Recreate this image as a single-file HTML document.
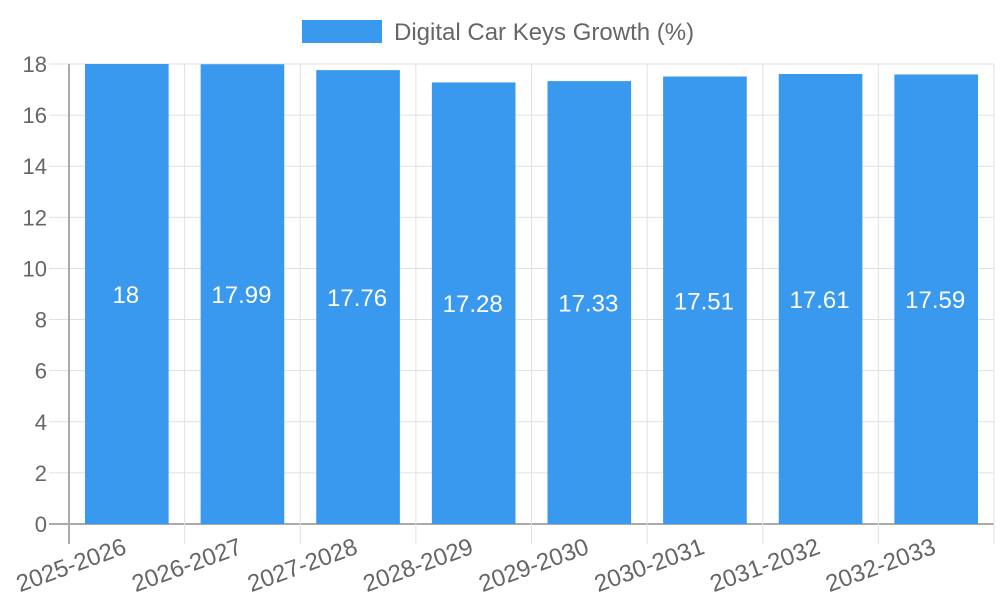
<!DOCTYPE html>
<html><head><meta charset="utf-8"><style>
body{margin:0;background:#fff;}
svg{display:block;font-family:"Liberation Sans",sans-serif;}
</style></head><body>
<svg id="chart" width="1000" height="600">
<g>
<rect x="302" y="20" width="80" height="23" fill="#3899ee"></rect>
<text x="394" y="40" font-size="24" fill="#666">Digital Car Keys Growth (%)</text>
</g>
<g id="grid"></g><g id="bars"></g><g id="labels"></g>
</svg>
<script>
const categories=["2025-2026","2026-2027","2027-2028","2028-2029","2029-2030","2030-2031","2031-2032","2032-2033"];
const values=[18,17.99,17.76,17.28,17.33,17.51,17.61,17.59];
const valueLabels=["18","17.99","17.76","17.28","17.33","17.51","17.61","17.59"];
const yTicks=[0,2,4,6,8,10,12,14,16,18];
const NS="http://www.w3.org/2000/svg";
const L=69,R=994,T=64,B=524,yMax=18;
const bw=(R-L)/categories.length;
const y=v=>B-(v/yMax)*(B-T);
const x=i=>L+i*bw;
function mk(tag,at,parent,txt){const e=document.createElementNS(NS,tag);for(const k in at)e.setAttribute(k,at[k]);if(txt!==undefined)e.textContent=txt;document.getElementById(parent).appendChild(e);return e;}
yTicks.forEach(t=>{
 const g=mk('line',{x1:49,x2:R,y1:y(t),y2:y(t),stroke:t===0?'#aaa':'#e0e0e0','stroke-width':t===0?2:1},'grid');
 
 
 const tl=mk('text',{x:47,y:y(t)+8,'text-anchor':'end','font-size':22,fill:'#666'},'labels',String(t));
 
 
});
for(let i=0;i<=categories.length;i++){
 const g=mk('line',{x1:x(i),x2:x(i),y1:T,y2:544,stroke:i===0?'#aaa':'#e0e0e0','stroke-width':i===0?2:1},'grid');
 
 
}
categories.forEach((c,i)=>{
 const cx=x(i)+bw/2;
 const b=mk('rect',{x:x(i)+16,y:y(values[i]),width:bw-32,height:B-y(values[i]),fill:'#3899ee'},'bars');
 
 
 const vl=mk('text',{x:cx-1,y:(y(values[i])+B)/2+9,'text-anchor':'middle','font-size':24,fill:'#fff'},'labels',valueLabels[i]);
 
 
 const xl=mk('text',{x:cx+1,y:553,'text-anchor':'end','font-size':24,fill:'#666',transform:`rotate(-20 ${cx+1} 553)`},'labels',c);
 
 
});
</script>
</body></html>
